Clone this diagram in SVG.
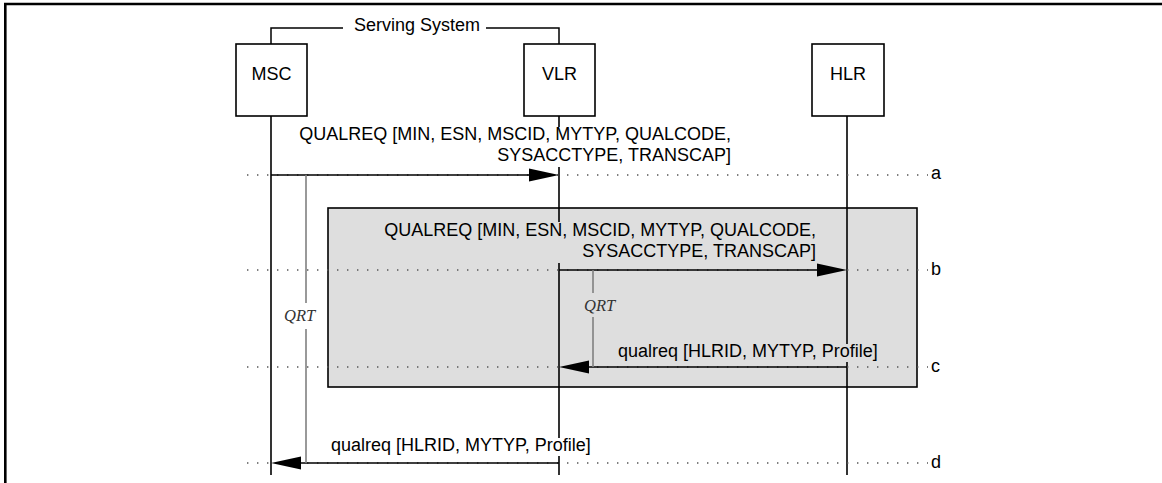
<svg xmlns="http://www.w3.org/2000/svg" width="1162" height="483" viewBox="0 0 1162 483">
<defs>
<style>
.t{font-family:"Liberation Sans",Arial,sans-serif;font-size:18px;fill:#000}
.q{font-family:"Liberation Serif","Times New Roman",serif;font-size:16.5px;font-style:italic;fill:#333}
.box{fill:#fff;stroke:#000;stroke-width:1.6}
.life{stroke:#000;stroke-width:1.6;fill:none}
.msg{stroke:#000;stroke-width:1.5;fill:none}
.dot{stroke:#555;stroke-width:1.4;stroke-dasharray:1.4 8.6;fill:none}
.qrt{stroke:#808080;stroke-width:1.6;fill:none}
.head{fill:#000}
</style>
</defs>
<rect width="1162" height="483" fill="#fff"/>
<!-- frame -->
<path d="M5.3,483 V4 H1162" fill="none" stroke="#000" stroke-width="2.6"/>
<!-- serving system bracket -->
<g id="serving-system">
<path d="M271,44 V28 H343 M486,28 H559 V44" fill="none" stroke="#000" stroke-width="1.5"/>
<text class="t" x="354" y="31">Serving System</text>
</g>
<!-- procedure box -->
<rect id="procedure" x="328" y="208" width="589" height="179" fill="#dedede" stroke="#000" stroke-width="1.6"/>
<!-- nodes -->
<g id="MSC">
<line class="life" x1="271" y1="116" x2="271" y2="475"/>
<rect class="box" x="236" y="44" width="71" height="72"/>
<text class="t" x="271.5" y="79.5" text-anchor="middle">MSC</text>
</g>
<g id="VLR">
<line class="life" x1="559" y1="116" x2="559" y2="475"/>
<rect class="box" x="524" y="44" width="71" height="72"/>
<text class="t" x="559.5" y="79.5" text-anchor="middle">VLR</text>
</g>
<g id="HLR">
<line class="life" x1="847" y1="116" x2="847" y2="475"/>
<rect class="box" x="812" y="44" width="72" height="72"/>
<text class="t" x="848" y="79.5" text-anchor="middle">HLR</text>
</g>
<!-- dotted time lines -->
<g id="timelines">
<line class="dot" x1="247" y1="175" x2="928" y2="175"/>
<line class="dot" x1="247" y1="270" x2="928" y2="270"/>
<line class="dot" x1="247" y1="367" x2="928" y2="367"/>
<line class="dot" x1="247" y1="463" x2="928" y2="463"/>
<text class="t" x="931" y="179">a</text>
<text class="t" x="931" y="275">b</text>
<text class="t" x="931" y="372">c</text>
<text class="t" x="931" y="468">d</text>
</g>
<!-- connectors -->
<g id="connectors">
<g id="msg-a">
<rect x="294" y="127" width="440" height="40" fill="#fff"/>
<text class="t" x="731" y="140" text-anchor="end">QUALREQ [MIN, ESN, MSCID, MYTYP, QUALCODE,</text>
<text class="t" x="731" y="161" text-anchor="end">SYSACCTYPE, TRANSCAP]</text>
<line class="msg" x1="271" y1="175" x2="532" y2="175"/>
<polygon class="head" points="559,175 529,168.5 529,181.5"/>
</g>
<g id="msg-b">
<rect x="379" y="222" width="440" height="41" fill="#dedede"/>
<text class="t" x="816" y="236" text-anchor="end">QUALREQ [MIN, ESN, MSCID, MYTYP, QUALCODE,</text>
<text class="t" x="816" y="257" text-anchor="end">SYSACCTYPE, TRANSCAP]</text>
<line class="msg" x1="559" y1="270" x2="820" y2="270"/>
<polygon class="head" points="847,270 817,263.5 817,276.5"/>
</g>
<g id="msg-c">
<rect x="615" y="344" width="267" height="18" fill="#dedede"/>
<text class="t" x="618" y="356.5">qualreq [HLRID, MYTYP, Profile]</text>
<line class="msg" x1="847" y1="367" x2="586" y2="367"/>
<polygon class="head" points="559,367 589,360.5 589,373.5"/>
</g>
<g id="msg-d">
<rect x="328" y="438" width="264" height="18" fill="#fff"/>
<text class="t" x="331" y="451">qualreq [HLRID, MYTYP, Profile]</text>
<line class="msg" x1="559" y1="463" x2="298" y2="463"/>
<polygon class="head" points="271,463 301,456.5 301,469.5"/>
</g>
<g id="qrt-outer">
<path class="qrt" d="M306,175 V303 M306,329 V463"/>
<text class="q" x="284" y="320.5">QRT</text>
</g>
<g id="qrt-inner">
<path class="qrt" d="M593,270 V293 M593,317 V367"/>
<text class="q" x="584" y="310.5">QRT</text>
</g>
</g>
</svg>
